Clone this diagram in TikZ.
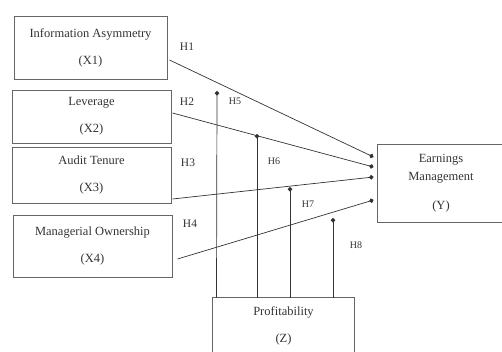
\documentclass[tikz,border=0pt]{standalone}
\usepackage{fontspec}
\setmainfont{Liberation Serif}
\usetikzlibrary{arrows.meta}
\begin{document}
\begin{tikzpicture}[x=1pt,y=-1pt,
 box/.style={draw=black!60, line width=1pt, rectangle, inner sep=0pt, align=center,
   font=\fontsize{12.5}{27}\selectfont, text=black!80},
 frame/.style={draw=black!60, line width=1pt},
 link/.style={draw=black!80, line width=0.7pt, -{Circle[length=4.5pt]}},
 hlab/.style={font=\fontsize{11.5}{13}\selectfont, text=black!80},
 mlab/.style={font=\fontsize{10}{12}\selectfont, text=black!80}]
\useasboundingbox (0,0) rectangle (502,351);
\clip (0,0) rectangle (502,351);

\node[box, minimum width=153pt, minimum height=63pt] (X1) at (90.5,47.5) {Information Asymmetry\\(X1)};
\node[box, minimum width=159pt, minimum height=53pt] (X2) at (91.5,116.5) {Leverage\\(X2)};
\node[box, minimum width=159pt, minimum height=56pt] (X3) at (91.5,175) {Audit Tenure\\(X3)};
\node[box, minimum width=159pt, minimum height=62pt] (X4) at (92.5,246) {Managerial Ownership\\(X4)};
\node[box, draw=none, minimum width=126pt, minimum height=77pt] (Y) at (441,183.5) {Earnings\\[-9pt]Management\\[2pt](Y)};
\draw[frame] ([xshift=40pt]Y.north east) -- (Y.north west) -- (Y.south west) -- ([xshift=40pt]Y.south east);
\node[box, draw=none, minimum width=141pt, minimum height=55pt] (Z) at (283.5,325.5) {Profitability\\(Z)};
\draw[frame] ([yshift=-40pt]Z.south west) -- (Z.north west) -- (Z.north east) -- ([yshift=-40pt]Z.south east);

% direct effects
\draw[link] ([xshift=2pt,yshift=-12.5pt]X1.east) -- ([xshift=-4pt,yshift=26.5pt]Y.west);
\draw[link] ([xshift=1pt,yshift=3.5pt]X2.east) -- ([xshift=-4pt,yshift=16.5pt]Y.west);
\draw[link] ([xshift=1pt,yshift=-24pt]X3.east) -- ([xshift=-4pt,yshift=6.5pt]Y.west);
\draw[link] ([xshift=5pt,yshift=-13pt]X4.east) -- ([xshift=-4pt,yshift=-16.5pt]Y.west);

% moderating effects
\coordinate (m5) at (217,91);
\coordinate (m6) at (257,134);
\coordinate (m7) at (290,187);
\coordinate (m8) at (333,218);
\draw[link] ([xshift=4pt]Z.north west) -- (m5);
\draw[link] (Z.north west -| m6) -- (m6);
\draw[link] (Z.north west -| m7) -- (m7);
\draw[link] (Z.north west -| m8) -- (m8);

\node[hlab] (h1) at (187,47) {H1};
\node[hlab] (h2) at (187,102) {H2};
\node[hlab] (h3) at (188,163) {H3};
\node[hlab] (h4) at (190,224) {H4};
\node[mlab] (h5) at (235,101) {H5};
\node[mlab] (h6) at (274,161) {H6};
\node[mlab] (h7) at (308,204) {H7};
\node[mlab] (h8) at (356,245) {H8};
\end{tikzpicture}
\end{document}
